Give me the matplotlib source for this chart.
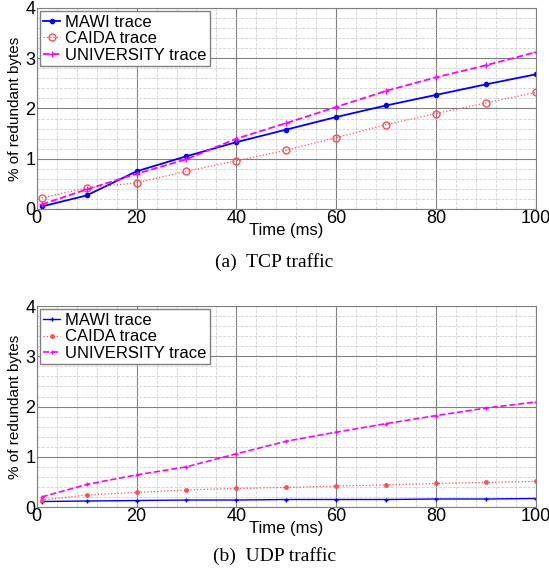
import matplotlib.pyplot as plt
from matplotlib.ticker import MultipleLocator

times = [1, 10, 20, 30, 40, 50, 60, 70, 80, 90, 100]

tcp_mawi = [0.05, 0.27, 0.75, 1.05, 1.33, 1.58, 1.83, 2.06, 2.27, 2.48, 2.68]
tcp_caida = [0.22, 0.42, 0.52, 0.75, 0.96, 1.17, 1.42, 1.68, 1.90, 2.11, 2.32]
tcp_univ = [0.09, 0.39, 0.70, 0.99, 1.40, 1.71, 2.03, 2.35, 2.62, 2.86, 3.12]

udp_mawi = [0.11, 0.12, 0.13, 0.14, 0.14, 0.15, 0.15, 0.15, 0.16, 0.16, 0.17]
udp_caida = [0.14, 0.24, 0.29, 0.34, 0.37, 0.39, 0.42, 0.44, 0.47, 0.49, 0.51]
udp_univ = [0.20, 0.45, 0.64, 0.80, 1.06, 1.31, 1.49, 1.66, 1.82, 1.97, 2.09]

labels = ["MAWI trace", "CAIDA trace", "UNIVERSITY trace"]

plt.rcParams["font.family"] = ["Liberation Sans", "DejaVu Sans"]

fig = plt.figure(figsize=(5.49, 5.71), dpi=100)
ax1 = fig.add_axes([0.067, 0.634, 0.909, 0.352])
ax2 = fig.add_axes([0.067, 0.112, 0.909, 0.352])


def style_axes(ax):
    ax.set_xlim(0, 100)
    ax.set_ylim(0, 4)
    ax.xaxis.set_major_locator(MultipleLocator(20))
    ax.yaxis.set_major_locator(MultipleLocator(1))
    ax.xaxis.set_minor_locator(MultipleLocator(4))
    ax.yaxis.set_minor_locator(MultipleLocator(0.2))
    ax.grid(which="major", color="#808080", linewidth=0.8)
    ax.grid(which="minor", color="#d0d0d0", linestyle="--", linewidth=0.6)
    ax.set_axisbelow(True)
    ax.tick_params(which="both", length=0, labelsize=13, pad=1)
    for s in ax.spines.values():
        s.set_color("#808080")
    ax.set_xlabel("Time (ms)", fontsize=12, labelpad=-3)
    ax.set_ylabel("% of redundant bytes", fontsize=11, labelpad=2)


# (a) TCP
ax1.plot(times, tcp_mawi, color="blue", marker="o", markersize=3, linewidth=1.3, label=labels[0])
ax1.plot(times, tcp_caida, color="#ff5050", marker="o", markersize=5, markerfacecolor="none",
         linestyle=":", linewidth=0.9, label=labels[1])
ax1.plot(times, tcp_univ, color="magenta", marker="+", markersize=5, linestyle="--",
         linewidth=1.3, label=labels[2])
style_axes(ax1)
leg1 = ax1.legend(loc="upper left", fontsize=12, handlelength=1.0, handletextpad=0.3,
                  borderpad=0.2, labelspacing=0.1, borderaxespad=0.2, fancybox=False,
                  framealpha=1)
leg1.get_frame().set_edgecolor("#808080")

# (b) UDP
ax2.plot(times, udp_mawi, color="blue", marker="+", markersize=3, linewidth=1.0, label=labels[0])
ax2.plot(times, udp_caida, color="#ff5050", marker="o", markersize=2.5, linestyle=":",
         linewidth=0.9, label=labels[1])
ax2.plot(times, udp_univ, color="magenta", marker="+", markersize=3, linestyle="--",
         linewidth=1.2, label=labels[2])
style_axes(ax2)
leg2 = ax2.legend(loc="upper left", fontsize=12, handlelength=1.0, handletextpad=0.3,
                  borderpad=0.2, labelspacing=0.1, borderaxespad=0.2, fancybox=False,
                  framealpha=1)
leg2.get_frame().set_edgecolor("#808080")

fig.text(0.5, 1 - 262 / 571, "(a)  TCP traffic", ha="center", va="center",
         fontsize=14, family="Liberation Serif")
fig.text(0.5, 1 - 556 / 571, "(b)  UDP traffic", ha="center", va="center",
         fontsize=14, family="Liberation Serif")

fig.savefig("out.png", dpi=100)
